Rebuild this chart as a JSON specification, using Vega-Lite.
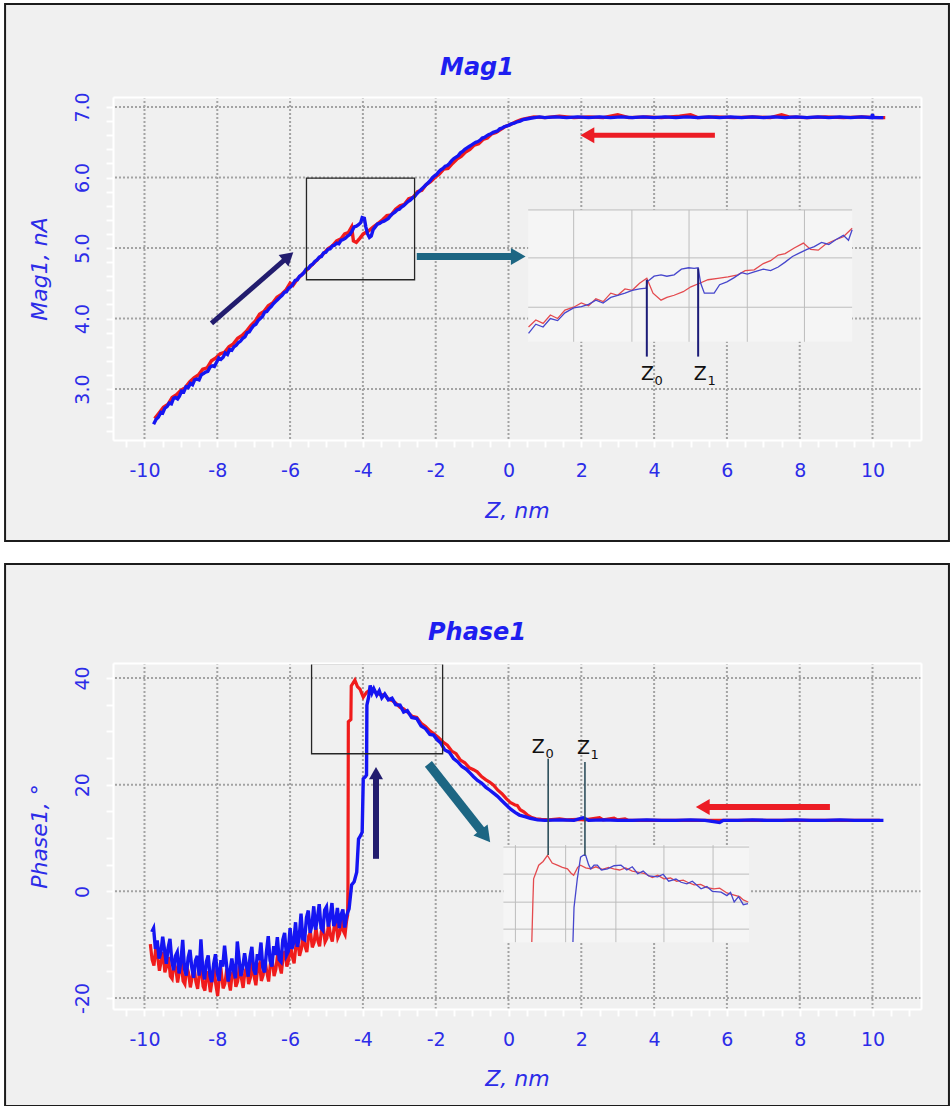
{
  "$schema": "https://vega.github.io/schema/vega-lite/v6.json",
  "background": "white",
  "padding": {"left": 4, "top": 3, "right": 0, "bottom": 0},
  "spacing": 19,
  "config": {
    "view": {"stroke": null},
    "axis": {"labelFont": "DejaVu Sans", "labelFontSize": 19, "labelColor": "#2c2ce8", "titleFont": "DejaVu Sans", "titleFontSize": 22, "titleFontStyle": "italic", "titleFontWeight": "normal", "titleColor": "#2c2ce8", "domainColor": "white", "domainWidth": 2, "tickColor": "white", "tickWidth": 2, "tickSize": 7, "grid": false, "zindex": 1, "labelOverlap": false, "labelFlush": false, "labelBound": false}
  },
  "datasets": {
    "frameTop": [{"x1": -13.83, "x2": 12.1, "y1": 0.844, "y2": 8.461}],
    "frameBot": [{"x1": -13.83, "x2": 12.1, "y1": -40.25, "y2": 61.38}],
    "gx": [{"v": -10}, {"v": -8}, {"v": -6}, {"v": -4}, {"v": -2}, {"v": 0}, {"v": 2}, {"v": 4}, {"v": 6}, {"v": 8}, {"v": 10}],
    "gyTop": [{"v": 3}, {"v": 4}, {"v": 5}, {"v": 6}, {"v": 7}],
    "gyBot": [{"v": -20}, {"v": 0}, {"v": 20}, {"v": 40}],
    "boxTop": [{"x1": -5.55, "x2": -2.58, "y1": 4.55, "y2": 5.99}],
    "boxBot": [{"x1": -5.41, "x2": -1.81, "y1": 25.8, "y2": 42.7}],
    "insBgTop": [{"x1": 0.54, "x2": 9.44, "y1": 3.67, "y2": 5.54}],
    "insBgBot": [{"x1": -0.14, "x2": 6.61, "y1": -9.53, "y2": 8.67}],
    "insGridTop": [
      {"x1": 0.54, "x2": 9.44, "y1": 5.54, "y2": 5.54},
      {"x1": 0.54, "x2": 9.44, "y1": 4.86, "y2": 4.86},
      {"x1": 0.54, "x2": 9.44, "y1": 4.16, "y2": 4.16},
      {"x1": 1.79, "x2": 1.79, "y1": 3.67, "y2": 5.54},
      {"x1": 3.39, "x2": 3.39, "y1": 3.67, "y2": 5.54},
      {"x1": 4.96, "x2": 4.96, "y1": 3.67, "y2": 5.54},
      {"x1": 6.56, "x2": 6.56, "y1": 3.67, "y2": 5.54},
      {"x1": 8.13, "x2": 8.13, "y1": 3.67, "y2": 5.54}
    ],
    "insGridBot": [
      {"x1": -0.14, "x2": 6.61, "y1": 8.3, "y2": 8.3},
      {"x1": -0.14, "x2": 6.61, "y1": 3.23, "y2": 3.23},
      {"x1": -0.14, "x2": 6.61, "y1": -2.03, "y2": -2.03},
      {"x1": -0.14, "x2": 6.61, "y1": -7.09, "y2": -7.09},
      {"x1": 0.19, "x2": 0.19, "y1": -9.53, "y2": 8.67},
      {"x1": 1.57, "x2": 1.57, "y1": -9.53, "y2": 8.67},
      {"x1": 2.95, "x2": 2.95, "y1": -9.53, "y2": 8.67},
      {"x1": 4.27, "x2": 4.27, "y1": -9.53, "y2": 8.67},
      {"x1": 5.62, "x2": 5.62, "y1": -9.53, "y2": 8.67}
    ],
    "zTop": [
      {"main": "Z", "sub": "0", "x": 3.8, "y1": 4.55, "y2": 3.46, "tx": 4.0, "ty": 3.13},
      {"main": "Z", "sub": "1", "x": 5.21, "y1": 4.71, "y2": 3.46, "tx": 5.45, "ty": 3.13}
    ],
    "zBot": [
      {"main": "Z", "sub": "0", "x": 1.09, "y1": 24.87, "y2": 6.81, "tx": 1.0, "ty": 26.0},
      {"main": "Z", "sub": "1", "x": 2.1, "y1": 24.25, "y2": 6.75, "tx": 2.24, "ty": 25.7}
    ],
    "arrowsTop": [
      {"name": "approach", "x1": -8.16, "y1": 3.93, "x2": -6.09, "y2": 4.86},
      {"name": "zoom", "x1": -2.52, "y1": 4.88, "x2": 0.2, "y2": 4.88},
      {"name": "retract", "x1": 5.67, "y1": 6.6, "x2": 2.23, "y2": 6.6}
    ],
    "arrowsBot": [
      {"name": "approach", "x1": -3.64, "y1": 6.1, "x2": -3.64, "y2": 21.78},
      {"name": "zoom", "x1": -2.2, "y1": 23.9, "x2": -0.68, "y2": 10.74},
      {"name": "retract", "x1": 8.83, "y1": 15.8, "x2": 5.4, "y2": 15.8}
    ],
    "magA": [
      {"z":-9.75,"v":2.50},{"z":-9.68,"v":2.57},{"z":-9.62,"v":2.60},{"z":-9.55,"v":2.67},{"z":-9.50,"v":2.66},{"z":-9.44,"v":2.73},{"z":-9.38,"v":2.75},{"z":-9.32,"v":2.80},{"z":-9.26,"v":2.79},{"z":-9.20,"v":2.87},{"z":-9.15,"v":2.88},{"z":-9.09,"v":2.86},{"z":-9.04,"v":2.90},{"z":-8.98,"v":2.97},{"z":-8.92,"v":2.96},{"z":-8.86,"v":3.03},{"z":-8.80,"v":3.02},{"z":-8.74,"v":3.08},{"z":-8.68,"v":3.06},{"z":-8.62,"v":3.13},{"z":-8.56,"v":3.14},{"z":-8.50,"v":3.13},{"z":-8.44,"v":3.20},{"z":-8.38,"v":3.22},{"z":-8.32,"v":3.24},{"z":-8.26,"v":3.25},{"z":-8.20,"v":3.31},{"z":-8.14,"v":3.33},{"z":-8.08,"v":3.32},{"z":-8.02,"v":3.38},{"z":-7.96,"v":3.44},{"z":-7.90,"v":3.42},{"z":-7.84,"v":3.45},{"z":-7.78,"v":3.51},{"z":-7.72,"v":3.49},{"z":-7.66,"v":3.56},{"z":-7.60,"v":3.55},{"z":-7.54,"v":3.60},{"z":-7.48,"v":3.62},{"z":-7.42,"v":3.66},{"z":-7.36,"v":3.68},{"z":-7.30,"v":3.72},{"z":-7.24,"v":3.74},{"z":-7.18,"v":3.80},{"z":-7.12,"v":3.81},{"z":-7.06,"v":3.86},{"z":-7.00,"v":3.90},{"z":-6.94,"v":3.92},{"z":-6.88,"v":3.97},{"z":-6.82,"v":4.00},{"z":-6.76,"v":4.03},{"z":-6.70,"v":4.09},{"z":-6.64,"v":4.10},{"z":-6.58,"v":4.14},{"z":-6.52,"v":4.17},{"z":-6.46,"v":4.21},{"z":-6.40,"v":4.24},{"z":-6.34,"v":4.27},{"z":-6.28,"v":4.30},{"z":-6.22,"v":4.33},{"z":-6.16,"v":4.37},{"z":-6.10,"v":4.38},{"z":-6.04,"v":4.43},{"z":-5.98,"v":4.45},{"z":-5.92,"v":4.49},{"z":-5.86,"v":4.54},{"z":-5.80,"v":4.55},{"z":-5.74,"v":4.60},{"z":-5.68,"v":4.62},{"z":-5.62,"v":4.65},{"z":-5.56,"v":4.70},{"z":-5.50,"v":4.71},{"z":-5.44,"v":4.75},{"z":-5.38,"v":4.77},{"z":-5.32,"v":4.81},{"z":-5.26,"v":4.83},{"z":-5.20,"v":4.87},{"z":-5.14,"v":4.88},{"z":-5.08,"v":4.93},{"z":-5.02,"v":4.94},{"z":-4.96,"v":4.98},{"z":-4.90,"v":4.99},{"z":-4.84,"v":5.03},{"z":-4.78,"v":5.04},{"z":-4.72,"v":5.07},{"z":-4.66,"v":5.06},{"z":-4.60,"v":5.11},{"z":-4.54,"v":5.12},{"z":-4.48,"v":5.14},{"z":-4.42,"v":5.17},{"z":-4.36,"v":5.19},{"z":-4.30,"v":5.24},{"z":-4.24,"v":5.30},{"z":-4.18,"v":5.31},{"z":-4.12,"v":5.33},{"z":-4.06,"v":5.36},{"z":-4.02,"v":5.43},{"z":-3.96,"v":5.42},{"z":-3.92,"v":5.30},{"z":-3.87,"v":5.20},{"z":-3.82,"v":5.15},{"z":-3.77,"v":5.17},{"z":-3.72,"v":5.26},{"z":-3.66,"v":5.30},{"z":-3.60,"v":5.34},{"z":-3.54,"v":5.35},{"z":-3.48,"v":5.37},{"z":-3.42,"v":5.38},{"z":-3.36,"v":5.40},{"z":-3.30,"v":5.42},{"z":-3.24,"v":5.46},{"z":-3.18,"v":5.49},{"z":-3.12,"v":5.51},{"z":-3.06,"v":5.54},{"z":-3.00,"v":5.55},{"z":-2.94,"v":5.58},{"z":-2.88,"v":5.60},{"z":-2.82,"v":5.63},{"z":-2.76,"v":5.66},{"z":-2.70,"v":5.68},{"z":-2.64,"v":5.71},{"z":-2.58,"v":5.73},{"z":-2.52,"v":5.77},{"z":-2.46,"v":5.80},{"z":-2.40,"v":5.83},{"z":-2.34,"v":5.86},{"z":-2.28,"v":5.89},{"z":-2.22,"v":5.92},{"z":-2.16,"v":5.95},{"z":-2.10,"v":5.99},{"z":-2.04,"v":6.02},{"z":-1.98,"v":6.04},{"z":-1.92,"v":6.08},{"z":-1.86,"v":6.11},{"z":-1.80,"v":6.13},{"z":-1.74,"v":6.16},{"z":-1.68,"v":6.17},{"z":-1.62,"v":6.20},{"z":-1.56,"v":6.24},{"z":-1.50,"v":6.27},{"z":-1.44,"v":6.29},{"z":-1.38,"v":6.31},{"z":-1.32,"v":6.35},{"z":-1.26,"v":6.37},{"z":-1.20,"v":6.40},{"z":-1.14,"v":6.42},{"z":-1.08,"v":6.44},{"z":-1.02,"v":6.46},{"z":-0.96,"v":6.48},{"z":-0.90,"v":6.50},{"z":-0.84,"v":6.51},{"z":-0.78,"v":6.53},{"z":-0.72,"v":6.56},{"z":-0.66,"v":6.57},{"z":-0.60,"v":6.59},{"z":-0.54,"v":6.61},{"z":-0.48,"v":6.62},{"z":-0.42,"v":6.64},{"z":-0.36,"v":6.65},{"z":-0.30,"v":6.66},{"z":-0.24,"v":6.69},{"z":-0.18,"v":6.70},{"z":-0.12,"v":6.72},{"z":-0.06,"v":6.73},{"z":0.00,"v":6.74},{"z":0.08,"v":6.76},{"z":0.16,"v":6.77},{"z":0.24,"v":6.79},{"z":0.32,"v":6.80},{"z":0.40,"v":6.82},{"z":0.50,"v":6.83},{"z":0.60,"v":6.84},{"z":0.72,"v":6.85},{"z":0.85,"v":6.86},{"z":1.0,"v":6.85},{"z":1.3,"v":6.86},{"z":1.6,"v":6.85},{"z":1.9,"v":6.86},{"z":2.2,"v":6.85},{"z":2.5,"v":6.86},{"z":2.8,"v":6.85},{"z":3.1,"v":6.86},{"z":3.4,"v":6.85},{"z":3.7,"v":6.86},{"z":4.0,"v":6.85},{"z":4.3,"v":6.86},{"z":4.6,"v":6.85},{"z":4.9,"v":6.86},{"z":5.2,"v":6.85},{"z":5.5,"v":6.86},{"z":5.8,"v":6.85},{"z":6.1,"v":6.86},{"z":6.4,"v":6.85},{"z":6.7,"v":6.86},{"z":7.0,"v":6.85},{"z":7.3,"v":6.86},{"z":7.6,"v":6.85},{"z":7.9,"v":6.86},{"z":8.2,"v":6.85},{"z":8.5,"v":6.86},{"z":8.8,"v":6.85},{"z":9.1,"v":6.86},{"z":9.4,"v":6.85},{"z":9.7,"v":6.86},{"z":9.98,"v":6.85},{"z":10.0,"v":6.90},{"z":10.02,"v":6.85},{"z":10.3,"v":6.85}
    ],
    "magR": [
      {"z":-9.72,"v":2.58},{"z":-9.60,"v":2.66},{"z":-9.48,"v":2.74},{"z":-9.36,"v":2.78},{"z":-9.24,"v":2.88},{"z":-9.12,"v":2.92},{"z":-9.00,"v":2.98},{"z":-8.88,"v":3.02},{"z":-8.76,"v":3.10},{"z":-8.64,"v":3.16},{"z":-8.52,"v":3.20},{"z":-8.40,"v":3.28},{"z":-8.28,"v":3.30},{"z":-8.16,"v":3.40},{"z":-8.04,"v":3.44},{"z":-7.92,"v":3.50},{"z":-7.80,"v":3.52},{"z":-7.68,"v":3.60},{"z":-7.56,"v":3.64},{"z":-7.44,"v":3.72},{"z":-7.32,"v":3.76},{"z":-7.20,"v":3.82},{"z":-7.08,"v":3.90},{"z":-6.96,"v":3.96},{"z":-6.84,"v":4.06},{"z":-6.72,"v":4.10},{"z":-6.60,"v":4.18},{"z":-6.48,"v":4.22},{"z":-6.36,"v":4.30},{"z":-6.24,"v":4.34},{"z":-6.12,"v":4.40},{"z":-6.00,"v":4.50},{"z":-5.92,"v":4.47},{"z":-5.80,"v":4.56},{"z":-5.68,"v":4.62},{"z":-5.56,"v":4.68},{"z":-5.44,"v":4.74},{"z":-5.32,"v":4.80},{"z":-5.20,"v":4.86},{"z":-5.08,"v":4.92},{"z":-4.96,"v":4.99},{"z":-4.84,"v":5.03},{"z":-4.72,"v":5.10},{"z":-4.60,"v":5.13},{"z":-4.50,"v":5.20},{"z":-4.40,"v":5.22},{"z":-4.31,"v":5.30},{"z":-4.26,"v":5.10},{"z":-4.18,"v":5.08},{"z":-4.08,"v":5.14},{"z":-3.99,"v":5.20},{"z":-3.85,"v":5.24},{"z":-3.71,"v":5.30},{"z":-3.58,"v":5.35},{"z":-3.46,"v":5.40},{"z":-3.34,"v":5.46},{"z":-3.22,"v":5.47},{"z":-3.10,"v":5.55},{"z":-2.98,"v":5.60},{"z":-2.86,"v":5.62},{"z":-2.74,"v":5.70},{"z":-2.62,"v":5.72},{"z":-2.50,"v":5.80},{"z":-2.38,"v":5.82},{"z":-2.26,"v":5.90},{"z":-2.14,"v":5.94},{"z":-2.02,"v":6.00},{"z":-1.90,"v":6.05},{"z":-1.78,"v":6.12},{"z":-1.66,"v":6.13},{"z":-1.54,"v":6.20},{"z":-1.42,"v":6.26},{"z":-1.30,"v":6.30},{"z":-1.18,"v":6.36},{"z":-1.06,"v":6.40},{"z":-0.94,"v":6.46},{"z":-0.82,"v":6.48},{"z":-0.70,"v":6.54},{"z":-0.58,"v":6.56},{"z":-0.46,"v":6.62},{"z":-0.34,"v":6.64},{"z":-0.22,"v":6.68},{"z":-0.10,"v":6.72},{"z":0.05,"v":6.75},{"z":0.20,"v":6.79},{"z":0.35,"v":6.82},{"z":0.50,"v":6.84},{"z":0.70,"v":6.86},{"z":1.0,"v":6.85},{"z":1.4,"v":6.87},{"z":1.8,"v":6.85},{"z":2.2,"v":6.86},{"z":2.6,"v":6.85},{"z":3.0,"v":6.89},{"z":3.3,"v":6.85},{"z":3.8,"v":6.86},{"z":4.2,"v":6.85},{"z":4.7,"v":6.87},{"z":5.0,"v":6.89},{"z":5.2,"v":6.85},{"z":5.7,"v":6.86},{"z":6.2,"v":6.85},{"z":6.7,"v":6.86},{"z":7.2,"v":6.85},{"z":7.5,"v":6.89},{"z":7.7,"v":6.86},{"z":8.2,"v":6.85},{"z":8.7,"v":6.86},{"z":9.2,"v":6.85},{"z":9.7,"v":6.86},{"z":10.2,"v":6.85},{"z":10.35,"v":6.85}
    ],
    "magInsR": [
      {"z":0.55,"v":3.88},{"z":0.75,"v":3.98},{"z":0.95,"v":3.93},{"z":1.15,"v":4.05},{"z":1.35,"v":4.00},{"z":1.55,"v":4.12},{"z":1.79,"v":4.16},{"z":2.0,"v":4.22},{"z":2.2,"v":4.18},{"z":2.4,"v":4.28},{"z":2.6,"v":4.24},{"z":2.81,"v":4.36},{"z":3.0,"v":4.33},{"z":3.2,"v":4.42},{"z":3.4,"v":4.40},{"z":3.6,"v":4.50},{"z":3.8,"v":4.57},{"z":3.97,"v":4.36},{"z":4.19,"v":4.26},{"z":4.35,"v":4.30},{"z":4.55,"v":4.33},{"z":4.8,"v":4.38},{"z":5.01,"v":4.45},{"z":5.25,"v":4.50},{"z":5.48,"v":4.55},{"z":5.75,"v":4.57},{"z":6.03,"v":4.59},{"z":6.3,"v":4.62},{"z":6.5,"v":4.68},{"z":6.75,"v":4.69},{"z":7.0,"v":4.78},{"z":7.2,"v":4.82},{"z":7.41,"v":4.90},{"z":7.6,"v":4.92},{"z":7.85,"v":5.00},{"z":8.1,"v":5.07},{"z":8.3,"v":4.98},{"z":8.51,"v":4.97},{"z":8.7,"v":5.05},{"z":8.95,"v":5.11},{"z":9.2,"v":5.16},{"z":9.44,"v":5.28}
    ],
    "magInsA": [
      {"z":0.55,"v":3.79},{"z":0.75,"v":3.92},{"z":0.95,"v":3.88},{"z":1.15,"v":4.00},{"z":1.35,"v":3.97},{"z":1.55,"v":4.08},{"z":1.79,"v":4.15},{"z":2.0,"v":4.17},{"z":2.2,"v":4.20},{"z":2.4,"v":4.26},{"z":2.6,"v":4.22},{"z":2.81,"v":4.30},{"z":3.0,"v":4.33},{"z":3.2,"v":4.36},{"z":3.4,"v":4.40},{"z":3.6,"v":4.42},{"z":3.78,"v":4.43},{"z":3.81,"v":4.52},{"z":4.0,"v":4.60},{"z":4.19,"v":4.62},{"z":4.35,"v":4.60},{"z":4.55,"v":4.62},{"z":4.75,"v":4.70},{"z":4.95,"v":4.72},{"z":5.1,"v":4.71},{"z":5.21,"v":4.72},{"z":5.28,"v":4.50},{"z":5.38,"v":4.36},{"z":5.48,"v":4.36},{"z":5.65,"v":4.36},{"z":5.8,"v":4.48},{"z":6.0,"v":4.52},{"z":6.2,"v":4.58},{"z":6.4,"v":4.65},{"z":6.56,"v":4.63},{"z":6.75,"v":4.66},{"z":7.0,"v":4.70},{"z":7.2,"v":4.68},{"z":7.41,"v":4.73},{"z":7.6,"v":4.80},{"z":7.8,"v":4.88},{"z":8.0,"v":4.93},{"z":8.2,"v":4.98},{"z":8.4,"v":5.02},{"z":8.6,"v":5.08},{"z":8.8,"v":5.05},{"z":9.0,"v":5.12},{"z":9.2,"v":5.18},{"z":9.34,"v":5.11},{"z":9.44,"v":5.26}
    ],
    "phaseA": [
      {"z":-9.80,"v":-7.6},{"z":-9.75,"v":-6.9},{"z":-9.70,"v":-10.8},{"z":-9.65,"v":-9.2},{"z":-9.60,"v":-12.6},{"z":-9.55,"v":-11.5},{"z":-9.50,"v":-8.5},{"z":-9.45,"v":-10.9},{"z":-9.40,"v":-13.6},{"z":-9.35,"v":-10.6},{"z":-9.30,"v":-8.9},{"z":-9.25,"v":-13.0},{"z":-9.20,"v":-14.8},{"z":-9.15,"v":-12.1},{"z":-9.10,"v":-11.4},{"z":-9.05,"v":-15.4},{"z":-9.00,"v":-13.2},{"z":-8.95,"v":-9.1},{"z":-8.90,"v":-14.6},{"z":-8.85,"v":-15.8},{"z":-8.80,"v":-12.4},{"z":-8.75,"v":-11.0},{"z":-8.70,"v":-14.3},{"z":-8.65,"v":-16.2},{"z":-8.60,"v":-13.0},{"z":-8.55,"v":-12.1},{"z":-8.50,"v":-15.8},{"z":-8.45,"v":-9.0},{"z":-8.40,"v":-14.6},{"z":-8.35,"v":-16.5},{"z":-8.30,"v":-13.2},{"z":-8.25,"v":-12.0},{"z":-8.20,"v":-15.9},{"z":-8.15,"v":-17.0},{"z":-8.10,"v":-13.6},{"z":-8.05,"v":-11.8},{"z":-8.00,"v":-15.3},{"z":-7.95,"v":-16.8},{"z":-7.90,"v":-12.9},{"z":-7.85,"v":-14.1},{"z":-7.80,"v":-10.2},{"z":-7.75,"v":-13.5},{"z":-7.70,"v":-16.9},{"z":-7.65,"v":-15.0},{"z":-7.60,"v":-12.6},{"z":-7.55,"v":-14.9},{"z":-7.50,"v":-16.3},{"z":-7.45,"v":-9.4},{"z":-7.40,"v":-12.8},{"z":-7.35,"v":-15.9},{"z":-7.30,"v":-14.2},{"z":-7.25,"v":-11.6},{"z":-7.20,"v":-13.8},{"z":-7.15,"v":-16.0},{"z":-7.10,"v":-12.3},{"z":-7.05,"v":-10.4},{"z":-7.00,"v":-14.7},{"z":-6.95,"v":-15.6},{"z":-6.90,"v":-11.8},{"z":-6.85,"v":-12.9},{"z":-6.80,"v":-9.6},{"z":-6.75,"v":-14.3},{"z":-6.70,"v":-15.2},{"z":-6.65,"v":-11.4},{"z":-6.60,"v":-8.4},{"z":-6.55,"v":-13.0},{"z":-6.50,"v":-14.1},{"z":-6.45,"v":-10.3},{"z":-6.40,"v":-11.9},{"z":-6.35,"v":-8.6},{"z":-6.30,"v":-12.8},{"z":-6.25,"v":-13.2},{"z":-6.20,"v":-9.1},{"z":-6.15,"v":-7.8},{"z":-6.10,"v":-12.0},{"z":-6.05,"v":-11.3},{"z":-6.00,"v":-6.9},{"z":-5.95,"v":-10.8},{"z":-5.90,"v":-9.6},{"z":-5.85,"v":-5.8},{"z":-5.80,"v":-10.4},{"z":-5.75,"v":-8.7},{"z":-5.70,"v":-4.2},{"z":-5.65,"v":-8.9},{"z":-5.60,"v":-9.1},{"z":-5.55,"v":-4.9},{"z":-5.50,"v":-3.6},{"z":-5.45,"v":-7.8},{"z":-5.40,"v":-6.4},{"z":-5.35,"v":-2.8},{"z":-5.30,"v":-7.2},{"z":-5.25,"v":-5.1},{"z":-5.20,"v":-2.4},{"z":-5.15,"v":-6.9},{"z":-5.10,"v":-7.3},{"z":-5.05,"v":-3.5},{"z":-5.00,"v":-2.9},{"z":-4.95,"v":-6.6},{"z":-4.90,"v":-4.8},{"z":-4.85,"v":-2.2},{"z":-4.80,"v":-6.5},{"z":-4.75,"v":-5.6},{"z":-4.70,"v":-3.1},{"z":-4.65,"v":-6.9},{"z":-4.60,"v":-4.4},{"z":-4.55,"v":-3.4},{"z":-4.50,"v":-6.8},{"z":-4.45,"v":-4.6},{"z":-4.41,"v":-3.8},{"z":-4.38,"v":-3.3},{"z":-4.31,"v":1.2},{"z":-4.24,"v":1.8},{"z":-4.17,"v":3.6},{"z":-4.12,"v":9.8},{"z":-4.06,"v":10.5},{"z":-4.02,"v":11.1},{"z":-3.99,"v":21.1},{"z":-3.93,"v":21.5},{"z":-3.90,"v":21.8},{"z":-3.89,"v":34.9},{"z":-3.84,"v":36.5},{"z":-3.80,"v":38.6},{"z":-3.75,"v":37.2},{"z":-3.70,"v":38.0},{"z":-3.62,"v":36.8},{"z":-3.55,"v":37.6},{"z":-3.48,"v":36.3},{"z":-3.40,"v":37.0},{"z":-3.30,"v":35.9},{"z":-3.20,"v":36.2},{"z":-3.10,"v":35.0},{"z":-2.98,"v":34.9},{"z":-2.88,"v":33.6},{"z":-2.78,"v":33.9},{"z":-2.66,"v":32.6},{"z":-2.52,"v":32.4},{"z":-2.40,"v":31.0},{"z":-2.28,"v":30.5},{"z":-2.16,"v":29.4},{"z":-2.06,"v":29.3},{"z":-1.96,"v":28.4},{"z":-1.86,"v":27.8},{"z":-1.75,"v":26.5},{"z":-1.63,"v":26.1},{"z":-1.51,"v":24.9},{"z":-1.40,"v":24.3},{"z":-1.28,"v":23.4},{"z":-1.16,"v":22.9},{"z":-1.06,"v":22.2},{"z":-0.96,"v":21.5},{"z":-0.85,"v":20.8},{"z":-0.74,"v":20.3},{"z":-0.62,"v":19.5},{"z":-0.52,"v":19.0},{"z":-0.41,"v":18.4},{"z":-0.30,"v":17.8},{"z":-0.18,"v":17.0},{"z":-0.06,"v":16.2},{"z":0.06,"v":15.4},{"z":0.18,"v":14.8},{"z":0.30,"v":14.3},{"z":0.45,"v":14.0},{"z":0.60,"v":13.7},{"z":0.80,"v":13.4},{"z":1.0,"v":13.3},{"z":1.4,"v":13.4},{"z":1.8,"v":13.3},{"z":2.05,"v":13.8},{"z":2.2,"v":13.3},{"z":2.6,"v":13.4},{"z":3.0,"v":13.3},{"z":3.4,"v":13.3},{"z":3.8,"v":13.4},{"z":4.2,"v":13.3},{"z":4.6,"v":13.3},{"z":5.0,"v":13.4},{"z":5.4,"v":13.3},{"z":5.8,"v":12.9},{"z":5.9,"v":13.3},{"z":6.3,"v":13.3},{"z":6.7,"v":13.4},{"z":7.1,"v":13.3},{"z":7.5,"v":13.3},{"z":7.9,"v":13.4},{"z":8.3,"v":13.3},{"z":8.7,"v":13.3},{"z":9.1,"v":13.4},{"z":9.5,"v":13.3},{"z":9.9,"v":13.3},{"z":10.3,"v":13.3}
    ],
    "phaseR": [
      {"z":-9.84,"v":-9.9},{"z":-9.79,"v":-12.8},{"z":-9.74,"v":-13.9},{"z":-9.69,"v":-10.7},{"z":-9.64,"v":-12.2},{"z":-9.59,"v":-14.9},{"z":-9.54,"v":-13.1},{"z":-9.49,"v":-11.4},{"z":-9.44,"v":-15.2},{"z":-9.39,"v":-14.0},{"z":-9.34,"v":-12.3},{"z":-9.29,"v":-15.9},{"z":-9.24,"v":-16.4},{"z":-9.19,"v":-13.2},{"z":-9.14,"v":-14.5},{"z":-9.09,"v":-17.1},{"z":-9.04,"v":-15.0},{"z":-8.99,"v":-13.4},{"z":-8.94,"v":-16.8},{"z":-8.89,"v":-17.4},{"z":-8.84,"v":-14.1},{"z":-8.79,"v":-15.3},{"z":-8.74,"v":-18.0},{"z":-8.69,"v":-16.1},{"z":-8.64,"v":-13.9},{"z":-8.59,"v":-16.9},{"z":-8.54,"v":-18.3},{"z":-8.49,"v":-15.2},{"z":-8.44,"v":-14.6},{"z":-8.39,"v":-17.8},{"z":-8.34,"v":-18.6},{"z":-8.29,"v":-15.0},{"z":-8.24,"v":-16.4},{"z":-8.19,"v":-18.9},{"z":-8.14,"v":-16.6},{"z":-8.09,"v":-14.4},{"z":-8.04,"v":-17.5},{"z":-7.99,"v":-19.6},{"z":-7.94,"v":-15.8},{"z":-7.89,"v":-15.1},{"z":-7.84,"v":-18.2},{"z":-7.79,"v":-17.3},{"z":-7.74,"v":-14.5},{"z":-7.69,"v":-16.7},{"z":-7.64,"v":-18.6},{"z":-7.59,"v":-15.4},{"z":-7.54,"v":-14.8},{"z":-7.49,"v":-17.9},{"z":-7.44,"v":-16.9},{"z":-7.39,"v":-13.9},{"z":-7.34,"v":-16.2},{"z":-7.29,"v":-18.1},{"z":-7.24,"v":-15.0},{"z":-7.19,"v":-14.3},{"z":-7.14,"v":-17.4},{"z":-7.09,"v":-16.2},{"z":-7.04,"v":-13.2},{"z":-6.99,"v":-15.9},{"z":-6.94,"v":-17.6},{"z":-6.89,"v":-14.4},{"z":-6.84,"v":-13.6},{"z":-6.79,"v":-16.8},{"z":-6.74,"v":-15.7},{"z":-6.69,"v":-12.8},{"z":-6.64,"v":-15.1},{"z":-6.59,"v":-16.9},{"z":-6.54,"v":-13.5},{"z":-6.49,"v":-12.8},{"z":-6.44,"v":-15.9},{"z":-6.39,"v":-14.6},{"z":-6.34,"v":-11.6},{"z":-6.29,"v":-13.9},{"z":-6.24,"v":-15.4},{"z":-6.19,"v":-12.1},{"z":-6.14,"v":-11.2},{"z":-6.09,"v":-14.1},{"z":-6.04,"v":-12.9},{"z":-5.99,"v":-9.8},{"z":-5.94,"v":-12.2},{"z":-5.89,"v":-13.5},{"z":-5.84,"v":-10.2},{"z":-5.79,"v":-9.3},{"z":-5.74,"v":-12.1},{"z":-5.69,"v":-10.8},{"z":-5.64,"v":-7.9},{"z":-5.59,"v":-10.3},{"z":-5.54,"v":-11.4},{"z":-5.49,"v":-8.4},{"z":-5.44,"v":-7.6},{"z":-5.39,"v":-10.5},{"z":-5.34,"v":-9.6},{"z":-5.29,"v":-6.8},{"z":-5.24,"v":-9.2},{"z":-5.19,"v":-10.3},{"z":-5.14,"v":-7.4},{"z":-5.09,"v":-6.6},{"z":-5.04,"v":-9.5},{"z":-4.99,"v":-8.8},{"z":-4.94,"v":-5.9},{"z":-4.89,"v":-8.3},{"z":-4.84,"v":-9.4},{"z":-4.79,"v":-6.7},{"z":-4.74,"v":-5.8},{"z":-4.69,"v":-8.7},{"z":-4.64,"v":-7.9},{"z":-4.59,"v":-5.2},{"z":-4.54,"v":-7.4},{"z":-4.49,"v":-8.1},{"z":-4.45,"v":-5.6},{"z":-4.42,"v":-4.5},{"z":-4.41,"v":1.0},{"z":-4.40,"v":31.8},{"z":-4.33,"v":32.2},{"z":-4.32,"v":38.5},{"z":-4.22,"v":39.6},{"z":-4.15,"v":38.4},{"z":-4.08,"v":37.9},{"z":-3.99,"v":36.4},{"z":-3.90,"v":37.3},{"z":-3.80,"v":37.8},{"z":-3.70,"v":37.6},{"z":-3.62,"v":37.2},{"z":-3.50,"v":36.8},{"z":-3.40,"v":36.9},{"z":-3.30,"v":36.0},{"z":-3.20,"v":35.8},{"z":-3.10,"v":35.3},{"z":-2.98,"v":34.5},{"z":-2.88,"v":34.2},{"z":-2.76,"v":33.5},{"z":-2.64,"v":32.8},{"z":-2.52,"v":32.6},{"z":-2.40,"v":31.5},{"z":-2.28,"v":30.9},{"z":-2.16,"v":30.1},{"z":-2.04,"v":29.5},{"z":-1.92,"v":28.8},{"z":-1.80,"v":28.0},{"z":-1.68,"v":27.4},{"z":-1.56,"v":26.3},{"z":-1.44,"v":25.8},{"z":-1.32,"v":24.6},{"z":-1.20,"v":24.1},{"z":-1.08,"v":23.2},{"z":-0.96,"v":22.8},{"z":-0.86,"v":22.4},{"z":-0.74,"v":21.5},{"z":-0.62,"v":20.9},{"z":-0.52,"v":20.5},{"z":-0.41,"v":19.9},{"z":-0.30,"v":19.0},{"z":-0.18,"v":18.3},{"z":-0.06,"v":17.4},{"z":0.06,"v":16.6},{"z":0.18,"v":16.2},{"z":0.24,"v":16.1},{"z":0.32,"v":15.3},{"z":0.42,"v":14.9},{"z":0.52,"v":14.3},{"z":0.62,"v":13.9},{"z":0.75,"v":13.6},{"z":0.90,"v":13.5},{"z":1.1,"v":13.4},{"z":1.4,"v":13.6},{"z":1.6,"v":13.4},{"z":1.9,"v":13.5},{"z":2.1,"v":13.4},{"z":2.5,"v":13.8},{"z":2.6,"v":13.4},{"z":2.9,"v":13.7},{"z":3.0,"v":13.4},{"z":3.2,"v":13.6},{"z":3.3,"v":13.3},{"z":4.0,"v":13.3},{"z":6.0,"v":13.3},{"z":8.0,"v":13.3},{"z":10.2,"v":13.3}
    ],
    "phInsR": [
      {"z":0.64,"v":-9.5},{"z":0.67,"v":-2.0},{"z":0.69,"v":2.35},{"z":0.83,"v":4.9},{"z":0.95,"v":5.6},{"z":1.07,"v":6.74},{"z":1.20,"v":5.3},{"z":1.34,"v":4.9},{"z":1.48,"v":4.5},{"z":1.62,"v":4.2},{"z":1.72,"v":3.4},{"z":1.79,"v":3.0},{"z":1.90,"v":4.5},{"z":1.98,"v":4.9},{"z":2.12,"v":4.4},{"z":2.26,"v":4.2},{"z":2.40,"v":4.6},{"z":2.58,"v":4.1},{"z":2.75,"v":4.5},{"z":2.89,"v":4.2},{"z":3.05,"v":4.0},{"z":3.22,"v":4.4},{"z":3.40,"v":3.8},{"z":3.55,"v":3.6},{"z":3.75,"v":3.3},{"z":3.95,"v":2.6},{"z":4.10,"v":3.0},{"z":4.27,"v":2.35},{"z":4.45,"v":2.5},{"z":4.62,"v":1.9},{"z":4.80,"v":2.1},{"z":4.92,"v":1.7},{"z":5.10,"v":1.2},{"z":5.28,"v":1.3},{"z":5.45,"v":0.7},{"z":5.65,"v":0.47},{"z":5.80,"v":0.6},{"z":6.00,"v":-0.3},{"z":6.20,"v":-0.7},{"z":6.35,"v":-1.0},{"z":6.45,"v":-1.6},{"z":6.58,"v":-2.0}
    ],
    "phInsA": [
      {"z":1.77,"v":-9.5},{"z":1.80,"v":-3.0},{"z":1.89,"v":2.35},{"z":1.98,"v":6.4},{"z":2.06,"v":6.8},{"z":2.12,"v":6.74},{"z":2.20,"v":5.0},{"z":2.26,"v":4.2},{"z":2.35,"v":4.9},{"z":2.44,"v":4.9},{"z":2.55,"v":4.0},{"z":2.72,"v":4.2},{"z":2.90,"v":4.8},{"z":3.09,"v":4.9},{"z":3.25,"v":4.0},{"z":3.40,"v":4.6},{"z":3.55,"v":3.3},{"z":3.70,"v":3.8},{"z":3.85,"v":2.9},{"z":4.10,"v":2.7},{"z":4.25,"v":3.2},{"z":4.40,"v":1.9},{"z":4.60,"v":2.3},{"z":4.74,"v":1.7},{"z":4.90,"v":1.4},{"z":5.05,"v":1.9},{"z":5.29,"v":0.47},{"z":5.45,"v":0.9},{"z":5.60,"v":0.0},{"z":5.84,"v":-0.15},{"z":6.00,"v":-0.8},{"z":6.10,"v":-0.2},{"z":6.20,"v":-2.0},{"z":6.32,"v":-1.0},{"z":6.45,"v":-2.5},{"z":6.58,"v":-2.3}
    ]
  },
  "vconcat": [
    {
      "width": 808,
      "height": 343,
      "title": {"text": "Mag1", "frame": "bounds", "anchor": "middle", "offset": -96, "baseline": "alphabetic", "font": "DejaVu Sans", "fontSize": 24, "fontStyle": "italic", "fontWeight": "bold", "color": "#1e1ef0"},
      "resolve": {"axis": {"x": "independent", "y": "independent"}},
      "layer": [
        {
          "data": {"name": "frameTop"},
          "mark": {"type": "rect", "fill": "#f0f0f0", "stroke": "#1c1c1c", "strokeWidth": 2},
          "encoding": {
            "x": {"field": "x1", "type": "quantitative", "scale": {"domain": [-10.865, 11.332], "nice": false, "zero": false}, "axis": null},
            "x2": {"field": "x2"},
            "y": {"field": "y1", "type": "quantitative", "scale": {"domain": [2.277, 7.142], "nice": false, "zero": false}, "axis": null},
            "y2": {"field": "y2"}
          }
        },
        {
          "data": {"name": "gx"},
          "mark": {"type": "rule", "color": "#a3a3a3", "strokeWidth": 2, "strokeDash": [2, 2]},
          "encoding": {
            "x": {"field": "v", "type": "quantitative", "scale": {"domain": [-10.865, 11.332], "nice": false, "zero": false}, "axis": {"orient": "top", "labels": false, "ticks": false, "title": null, "domainColor": "white", "domainWidth": 2, "zindex": 1}}
          }
        },
        {
          "data": {"name": "gyTop"},
          "mark": {"type": "rule", "color": "#a3a3a3", "strokeWidth": 2, "strokeDash": [2, 2]},
          "encoding": {
            "y": {"field": "v", "type": "quantitative", "scale": {"domain": [2.277, 7.142], "nice": false, "zero": false}, "axis": {"orient": "right", "labels": false, "ticks": false, "title": null, "domainColor": "white", "domainWidth": 2, "zindex": 1}}
          }
        },
        {
          "data": {"name": "magR"},
          "mark": {"type": "line", "color": "#f01c1c", "strokeWidth": 3.4},
          "encoding": {
            "x": {"field": "z", "type": "quantitative", "scale": {"domain": [-10.865, 11.332], "nice": false, "zero": false}, "axis": null},
            "y": {"field": "v", "type": "quantitative", "scale": {"domain": [2.277, 7.142], "nice": false, "zero": false}, "axis": null}
          }
        },
        {
          "data": {"name": "magA"},
          "mark": {"type": "line", "color": "#1515f2", "strokeWidth": 3.4},
          "encoding": {
            "x": {"field": "z", "type": "quantitative", "scale": {"domain": [-10.865, 11.332], "nice": false, "zero": false},
              "axis": {"title": "Z, nm", "values": [-10.5, -10, -9.5, -9, -8.5, -8, -7.5, -7, -6.5, -6, -5.5, -5, -4.5, -4, -3.5, -3, -2.5, -2, -1.5, -1, -0.5, 0, 0.5, 1, 1.5, 2, 2.5, 3, 3.5, 4, 4.5, 5, 5.5, 6, 6.5, 7, 7.5, 8, 8.5, 9, 9.5, 10, 10.5, 11], "labelExpr": "datum.value % 2 === 0 ? '' + datum.value : ''", "labelPadding": 14, "titlePadding": 20, "zindex": 1}},
            "y": {"field": "v", "type": "quantitative", "scale": {"domain": [2.277, 7.142], "nice": false, "zero": false},
              "axis": {"title": "Mag1, nA", "values": [2.4, 2.6, 2.8, 3, 3.2, 3.4, 3.6, 3.8, 4, 4.2, 4.4, 4.6, 4.8, 5, 5.2, 5.4, 5.6, 5.8, 6, 6.2, 6.4, 6.6, 6.8, 7], "labelExpr": "datum.value % 1 === 0 ? datum.value + '.0' : ''", "labelAngle": -90, "labelAlign": "center", "labelBaseline": "bottom", "labelPadding": 14, "titlePadding": 22, "zindex": 1}}
          }
        },
        {
          "data": {"name": "boxTop"},
          "mark": {"type": "rect", "fillOpacity": 0, "stroke": "#262626", "strokeWidth": 1.3},
          "encoding": {
            "x": {"field": "x1", "type": "quantitative", "scale": {"domain": [-10.865, 11.332], "nice": false, "zero": false}, "axis": null},
            "x2": {"field": "x2"},
            "y": {"field": "y1", "type": "quantitative", "scale": {"domain": [2.277, 7.142], "nice": false, "zero": false}, "axis": null},
            "y2": {"field": "y2"}
          }
        },
        {
          "data": {"name": "insBgTop"},
          "mark": {"type": "rect", "fill": "#f5f5f5"},
          "encoding": {
            "x": {"field": "x1", "type": "quantitative", "scale": {"domain": [-10.865, 11.332], "nice": false, "zero": false}, "axis": null},
            "x2": {"field": "x2"},
            "y": {"field": "y1", "type": "quantitative", "scale": {"domain": [2.277, 7.142], "nice": false, "zero": false}, "axis": null},
            "y2": {"field": "y2"}
          }
        },
        {
          "data": {"name": "insGridTop"},
          "mark": {"type": "rule", "color": "#bdbdbd", "strokeWidth": 1},
          "encoding": {
            "x": {"field": "x1", "type": "quantitative", "scale": {"domain": [-10.865, 11.332], "nice": false, "zero": false}, "axis": null},
            "x2": {"field": "x2"},
            "y": {"field": "y1", "type": "quantitative", "scale": {"domain": [2.277, 7.142], "nice": false, "zero": false}, "axis": null},
            "y2": {"field": "y2"}
          }
        },
        {
          "data": {"name": "magInsR"},
          "mark": {"type": "line", "color": "#e44a4e", "strokeWidth": 1.3},
          "encoding": {
            "x": {"field": "z", "type": "quantitative", "scale": {"domain": [-10.865, 11.332], "nice": false, "zero": false}, "axis": null},
            "y": {"field": "v", "type": "quantitative", "scale": {"domain": [2.277, 7.142], "nice": false, "zero": false}, "axis": null}
          }
        },
        {
          "data": {"name": "magInsA"},
          "mark": {"type": "line", "color": "#4646cc", "strokeWidth": 1.3},
          "encoding": {
            "x": {"field": "z", "type": "quantitative", "scale": {"domain": [-10.865, 11.332], "nice": false, "zero": false}, "axis": null},
            "y": {"field": "v", "type": "quantitative", "scale": {"domain": [2.277, 7.142], "nice": false, "zero": false}, "axis": null}
          }
        },
        {
          "data": {"name": "zTop"},
          "mark": {"type": "rule", "color": "#1c1c78", "strokeWidth": 2},
          "encoding": {
            "x": {"field": "x", "type": "quantitative", "scale": {"domain": [-10.865, 11.332], "nice": false, "zero": false}, "axis": null},
            "y": {"field": "y1", "type": "quantitative", "scale": {"domain": [2.277, 7.142], "nice": false, "zero": false}, "axis": null},
            "y2": {"field": "y2"}
          }
        },
        {
          "data": {"name": "zTop"},
          "mark": {"type": "text", "font": "DejaVu Sans", "fontSize": 19, "color": "#111111", "align": "right", "baseline": "alphabetic"},
          "encoding": {
            "x": {"field": "tx", "type": "quantitative", "scale": {"domain": [-10.865, 11.332], "nice": false, "zero": false}, "axis": null},
            "y": {"field": "ty", "type": "quantitative", "scale": {"domain": [2.277, 7.142], "nice": false, "zero": false}, "axis": null},
            "text": {"field": "main"}
          }
        },
        {
          "data": {"name": "zTop"},
          "mark": {"type": "text", "font": "DejaVu Sans", "fontSize": 13, "color": "#111111", "align": "left", "baseline": "alphabetic", "dx": 0.5, "dy": 5},
          "encoding": {
            "x": {"field": "tx", "type": "quantitative", "scale": {"domain": [-10.865, 11.332], "nice": false, "zero": false}, "axis": null},
            "y": {"field": "ty", "type": "quantitative", "scale": {"domain": [2.277, 7.142], "nice": false, "zero": false}, "axis": null},
            "text": {"field": "sub"}
          }
        },
        {
          "data": {"name": "arrowsTop"},
          "transform": [{"filter": "datum.name === 'approach'"}],
          "mark": {"type": "rule", "color": "#221c6e", "strokeWidth": 5},
          "encoding": {
            "x": {"field": "x1", "type": "quantitative", "scale": {"domain": [-10.865, 11.332], "nice": false, "zero": false}, "axis": null},
            "x2": {"field": "x2"},
            "y": {"field": "y1", "type": "quantitative", "scale": {"domain": [2.277, 7.142], "nice": false, "zero": false}, "axis": null},
            "y2": {"field": "y2"}
          }
        },
        {
          "data": {"name": "arrowsTop"},
          "transform": [{"filter": "datum.name === 'approach'"}],
          "mark": {"type": "point", "shape": "triangle", "filled": true, "color": "#221c6e", "size": 225, "angle": 48.7, "opacity": 1},
          "encoding": {
            "x": {"field": "x2", "type": "quantitative", "scale": {"domain": [-10.865, 11.332], "nice": false, "zero": false}, "axis": null},
            "y": {"field": "y2", "type": "quantitative", "scale": {"domain": [2.277, 7.142], "nice": false, "zero": false}, "axis": null}
          }
        },
        {
          "data": {"name": "arrowsTop"},
          "transform": [{"filter": "datum.name === 'zoom'"}],
          "mark": {"type": "rule", "color": "#1d6683", "strokeWidth": 7},
          "encoding": {
            "x": {"field": "x1", "type": "quantitative", "scale": {"domain": [-10.865, 11.332], "nice": false, "zero": false}, "axis": null},
            "x2": {"field": "x2"},
            "y": {"field": "y1", "type": "quantitative", "scale": {"domain": [2.277, 7.142], "nice": false, "zero": false}, "axis": null},
            "y2": {"field": "y2"}
          }
        },
        {
          "data": {"name": "arrowsTop"},
          "transform": [{"filter": "datum.name === 'zoom'"}],
          "mark": {"type": "point", "shape": "triangle", "filled": true, "color": "#1d6683", "size": 289, "angle": 90, "opacity": 1},
          "encoding": {
            "x": {"field": "x2", "type": "quantitative", "scale": {"domain": [-10.865, 11.332], "nice": false, "zero": false}, "axis": null},
            "y": {"field": "y2", "type": "quantitative", "scale": {"domain": [2.277, 7.142], "nice": false, "zero": false}, "axis": null}
          }
        },
        {
          "data": {"name": "arrowsTop"},
          "transform": [{"filter": "datum.name === 'retract'"}],
          "mark": {"type": "rule", "color": "#ec1c24", "strokeWidth": 5},
          "encoding": {
            "x": {"field": "x1", "type": "quantitative", "scale": {"domain": [-10.865, 11.332], "nice": false, "zero": false}, "axis": null},
            "x2": {"field": "x2"},
            "y": {"field": "y1", "type": "quantitative", "scale": {"domain": [2.277, 7.142], "nice": false, "zero": false}, "axis": null},
            "y2": {"field": "y2"}
          }
        },
        {
          "data": {"name": "arrowsTop"},
          "transform": [{"filter": "datum.name === 'retract'"}],
          "mark": {"type": "point", "shape": "triangle", "filled": true, "color": "#ec1c24", "size": 256, "angle": 270, "opacity": 1},
          "encoding": {
            "x": {"field": "x2", "type": "quantitative", "scale": {"domain": [-10.865, 11.332], "nice": false, "zero": false}, "axis": null},
            "y": {"field": "y2", "type": "quantitative", "scale": {"domain": [2.277, 7.142], "nice": false, "zero": false}, "axis": null}
          }
        }
      ]
    },
    {
      "width": 808,
      "height": 346,
      "title": {"text": "Phase1", "frame": "bounds", "anchor": "middle", "offset": -101, "baseline": "alphabetic", "font": "DejaVu Sans", "fontSize": 24, "fontStyle": "italic", "fontWeight": "bold", "color": "#1e1ef0"},
      "resolve": {"axis": {"x": "independent", "y": "independent"}},
      "layer": [
        {
          "data": {"name": "frameBot"},
          "mark": {"type": "rect", "fill": "#f0f0f0", "stroke": "#1c1c1c", "strokeWidth": 2},
          "encoding": {
            "x": {"field": "x1", "type": "quantitative", "scale": {"domain": [-10.865, 11.332], "nice": false, "zero": false}, "axis": null},
            "x2": {"field": "x2"},
            "y": {"field": "y1", "type": "quantitative", "scale": {"domain": [-22.06, 42.81], "nice": false, "zero": false}, "axis": null},
            "y2": {"field": "y2"}
          }
        },
        {
          "data": {"name": "gx"},
          "mark": {"type": "rule", "color": "#a3a3a3", "strokeWidth": 2, "strokeDash": [2, 2]},
          "encoding": {
            "x": {"field": "v", "type": "quantitative", "scale": {"domain": [-10.865, 11.332], "nice": false, "zero": false}, "axis": {"orient": "top", "labels": false, "ticks": false, "title": null, "domainColor": "white", "domainWidth": 2, "zindex": 1}}
          }
        },
        {
          "data": {"name": "gyBot"},
          "mark": {"type": "rule", "color": "#a3a3a3", "strokeWidth": 2, "strokeDash": [2, 2]},
          "encoding": {
            "y": {"field": "v", "type": "quantitative", "scale": {"domain": [-22.06, 42.81], "nice": false, "zero": false}, "axis": {"orient": "right", "labels": false, "ticks": false, "title": null, "domainColor": "white", "domainWidth": 2, "zindex": 1}}
          }
        },
        {
          "data": {"name": "phaseR"},
          "mark": {"type": "line", "color": "#f01c1c", "strokeWidth": 3.2},
          "encoding": {
            "x": {"field": "z", "type": "quantitative", "scale": {"domain": [-10.865, 11.332], "nice": false, "zero": false}, "axis": null},
            "y": {"field": "v", "type": "quantitative", "scale": {"domain": [-22.06, 42.81], "nice": false, "zero": false}, "axis": null}
          }
        },
        {
          "data": {"name": "phaseA"},
          "mark": {"type": "line", "color": "#1515f2", "strokeWidth": 3.4},
          "encoding": {
            "x": {"field": "z", "type": "quantitative", "scale": {"domain": [-10.865, 11.332], "nice": false, "zero": false},
              "axis": {"title": "Z, nm", "values": [-10.5, -10, -9.5, -9, -8.5, -8, -7.5, -7, -6.5, -6, -5.5, -5, -4.5, -4, -3.5, -3, -2.5, -2, -1.5, -1, -0.5, 0, 0.5, 1, 1.5, 2, 2.5, 3, 3.5, 4, 4.5, 5, 5.5, 6, 6.5, 7, 7.5, 8, 8.5, 9, 9.5, 10, 10.5, 11], "labelExpr": "datum.value % 2 === 0 ? '' + datum.value : ''", "labelPadding": 14, "titlePadding": 19, "zindex": 1}},
            "y": {"field": "v", "type": "quantitative", "scale": {"domain": [-22.06, 42.81], "nice": false, "zero": false},
              "axis": {"title": "Phase1, °", "values": [-20, -15, -10, -5, 0, 5, 10, 15, 20, 25, 30, 35, 40], "labelExpr": "datum.value % 20 === 0 ? '' + datum.value : ''", "labelAngle": -90, "labelAlign": "center", "labelBaseline": "bottom", "labelPadding": 14, "titlePadding": 22, "zindex": 1}}
          }
        },
        {
          "data": {"name": "boxBot"},
          "mark": {"type": "rect", "fillOpacity": 0, "stroke": "#262626", "strokeWidth": 1.3},
          "encoding": {
            "x": {"field": "x1", "type": "quantitative", "scale": {"domain": [-10.865, 11.332], "nice": false, "zero": false}, "axis": null},
            "x2": {"field": "x2"},
            "y": {"field": "y1", "type": "quantitative", "scale": {"domain": [-22.06, 42.81], "nice": false, "zero": false}, "axis": null},
            "y2": {"field": "y2"}
          }
        },
        {
          "data": {"name": "insBgBot"},
          "mark": {"type": "rect", "fill": "#f5f5f5"},
          "encoding": {
            "x": {"field": "x1", "type": "quantitative", "scale": {"domain": [-10.865, 11.332], "nice": false, "zero": false}, "axis": null},
            "x2": {"field": "x2"},
            "y": {"field": "y1", "type": "quantitative", "scale": {"domain": [-22.06, 42.81], "nice": false, "zero": false}, "axis": null},
            "y2": {"field": "y2"}
          }
        },
        {
          "data": {"name": "insGridBot"},
          "mark": {"type": "rule", "color": "#bdbdbd", "strokeWidth": 1},
          "encoding": {
            "x": {"field": "x1", "type": "quantitative", "scale": {"domain": [-10.865, 11.332], "nice": false, "zero": false}, "axis": null},
            "x2": {"field": "x2"},
            "y": {"field": "y1", "type": "quantitative", "scale": {"domain": [-22.06, 42.81], "nice": false, "zero": false}, "axis": null},
            "y2": {"field": "y2"}
          }
        },
        {
          "data": {"name": "phInsR"},
          "mark": {"type": "line", "color": "#e44a4e", "strokeWidth": 1.3},
          "encoding": {
            "x": {"field": "z", "type": "quantitative", "scale": {"domain": [-10.865, 11.332], "nice": false, "zero": false}, "axis": null},
            "y": {"field": "v", "type": "quantitative", "scale": {"domain": [-22.06, 42.81], "nice": false, "zero": false}, "axis": null}
          }
        },
        {
          "data": {"name": "phInsA"},
          "mark": {"type": "line", "color": "#4646cc", "strokeWidth": 1.3},
          "encoding": {
            "x": {"field": "z", "type": "quantitative", "scale": {"domain": [-10.865, 11.332], "nice": false, "zero": false}, "axis": null},
            "y": {"field": "v", "type": "quantitative", "scale": {"domain": [-22.06, 42.81], "nice": false, "zero": false}, "axis": null}
          }
        },
        {
          "data": {"name": "zBot"},
          "mark": {"type": "rule", "color": "#2e4f5c", "strokeWidth": 1.6},
          "encoding": {
            "x": {"field": "x", "type": "quantitative", "scale": {"domain": [-10.865, 11.332], "nice": false, "zero": false}, "axis": null},
            "y": {"field": "y1", "type": "quantitative", "scale": {"domain": [-22.06, 42.81], "nice": false, "zero": false}, "axis": null},
            "y2": {"field": "y2"}
          }
        },
        {
          "data": {"name": "zBot"},
          "mark": {"type": "text", "font": "DejaVu Sans", "fontSize": 19, "color": "#111111", "align": "right", "baseline": "alphabetic"},
          "encoding": {
            "x": {"field": "tx", "type": "quantitative", "scale": {"domain": [-10.865, 11.332], "nice": false, "zero": false}, "axis": null},
            "y": {"field": "ty", "type": "quantitative", "scale": {"domain": [-22.06, 42.81], "nice": false, "zero": false}, "axis": null},
            "text": {"field": "main"}
          }
        },
        {
          "data": {"name": "zBot"},
          "mark": {"type": "text", "font": "DejaVu Sans", "fontSize": 13, "color": "#111111", "align": "left", "baseline": "alphabetic", "dx": 0.5, "dy": 5},
          "encoding": {
            "x": {"field": "tx", "type": "quantitative", "scale": {"domain": [-10.865, 11.332], "nice": false, "zero": false}, "axis": null},
            "y": {"field": "ty", "type": "quantitative", "scale": {"domain": [-22.06, 42.81], "nice": false, "zero": false}, "axis": null},
            "text": {"field": "sub"}
          }
        },
        {
          "data": {"name": "arrowsBot"},
          "transform": [{"filter": "datum.name === 'approach'"}],
          "mark": {"type": "rule", "color": "#221c6e", "strokeWidth": 6},
          "encoding": {
            "x": {"field": "x1", "type": "quantitative", "scale": {"domain": [-10.865, 11.332], "nice": false, "zero": false}, "axis": null},
            "x2": {"field": "x2"},
            "y": {"field": "y1", "type": "quantitative", "scale": {"domain": [-22.06, 42.81], "nice": false, "zero": false}, "axis": null},
            "y2": {"field": "y2"}
          }
        },
        {
          "data": {"name": "arrowsBot"},
          "transform": [{"filter": "datum.name === 'approach'"}],
          "mark": {"type": "point", "shape": "triangle", "filled": true, "color": "#221c6e", "size": 196, "angle": 0, "opacity": 1},
          "encoding": {
            "x": {"field": "x2", "type": "quantitative", "scale": {"domain": [-10.865, 11.332], "nice": false, "zero": false}, "axis": null},
            "y": {"field": "y2", "type": "quantitative", "scale": {"domain": [-22.06, 42.81], "nice": false, "zero": false}, "axis": null}
          }
        },
        {
          "data": {"name": "arrowsBot"},
          "transform": [{"filter": "datum.name === 'zoom'"}],
          "mark": {"type": "rule", "color": "#1d6683", "strokeWidth": 9},
          "encoding": {
            "x": {"field": "x1", "type": "quantitative", "scale": {"domain": [-10.865, 11.332], "nice": false, "zero": false}, "axis": null},
            "x2": {"field": "x2"},
            "y": {"field": "y1", "type": "quantitative", "scale": {"domain": [-22.06, 42.81], "nice": false, "zero": false}, "axis": null},
            "y2": {"field": "y2"}
          }
        },
        {
          "data": {"name": "arrowsBot"},
          "transform": [{"filter": "datum.name === 'zoom'"}],
          "mark": {"type": "point", "shape": "triangle", "filled": true, "color": "#1d6683", "size": 324, "angle": 141.8, "opacity": 1},
          "encoding": {
            "x": {"field": "x2", "type": "quantitative", "scale": {"domain": [-10.865, 11.332], "nice": false, "zero": false}, "axis": null},
            "y": {"field": "y2", "type": "quantitative", "scale": {"domain": [-22.06, 42.81], "nice": false, "zero": false}, "axis": null}
          }
        },
        {
          "data": {"name": "arrowsBot"},
          "transform": [{"filter": "datum.name === 'retract'"}],
          "mark": {"type": "rule", "color": "#ec1c24", "strokeWidth": 6},
          "encoding": {
            "x": {"field": "x1", "type": "quantitative", "scale": {"domain": [-10.865, 11.332], "nice": false, "zero": false}, "axis": null},
            "x2": {"field": "x2"},
            "y": {"field": "y1", "type": "quantitative", "scale": {"domain": [-22.06, 42.81], "nice": false, "zero": false}, "axis": null},
            "y2": {"field": "y2"}
          }
        },
        {
          "data": {"name": "arrowsBot"},
          "transform": [{"filter": "datum.name === 'retract'"}],
          "mark": {"type": "point", "shape": "triangle", "filled": true, "color": "#ec1c24", "size": 256, "angle": 270, "opacity": 1},
          "encoding": {
            "x": {"field": "x2", "type": "quantitative", "scale": {"domain": [-10.865, 11.332], "nice": false, "zero": false}, "axis": null},
            "y": {"field": "y2", "type": "quantitative", "scale": {"domain": [-22.06, 42.81], "nice": false, "zero": false}, "axis": null}
          }
        }
      ]
    }
  ]
}
